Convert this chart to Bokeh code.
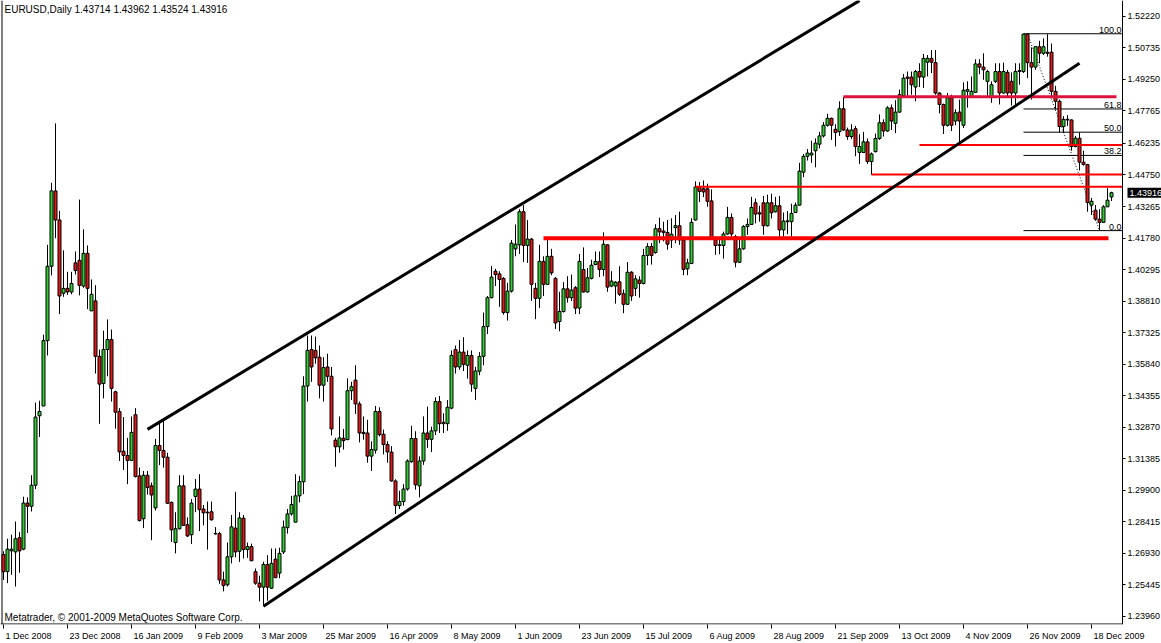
import numpy as np
from bokeh.plotting import figure
from bokeh.models import Range1d, FixedTicker, NumeralTickFormatter, LinearAxis, Label
from bokeh.embed import file_html
from bokeh.resources import INLINE
from bokeh.core.properties import value

# ---------------- data ----------------
symbol = "EURUSD"
timeframe = "Daily"
last_ohlc = ["1.43714", "1.43962", "1.43524", "1.43916"]

bar_open = [
    1.2688, 1.2607, 1.2705, 1.2700, 1.2767, 1.2713, 1.2930, 1.2915, 1.3014, 1.3341,
    1.3387, 1.3695, 1.4045, 1.4400, 1.4263, 1.3918, 1.3941, 1.3924, 1.4061, 1.4073,
    1.3952, 1.4106, 1.3835, 1.3882, 1.3621, 1.3493, 1.3653, 1.3700, 1.3454, 1.3361,
    1.3174, 1.3154, 1.3131, 1.3346, 1.3058, 1.2856, 1.3061, 1.3011, 1.2907, 1.3201,
    1.3178, 1.3146, 1.2933, 1.2744, 1.2809, 1.3011, 1.2828, 1.2781, 1.2961, 1.2996,
    1.2902, 1.2887, 1.2889, 1.2787, 1.2786, 1.2568, 1.2545, 1.2677, 1.2812, 1.2703,
    1.2859, 1.2711, 1.2725, 1.2607, 1.2553, 1.2534, 1.2641, 1.2529, 1.2666, 1.2600,
    1.2700, 1.2814, 1.2879, 1.2840, 1.2964, 1.3030, 1.3481, 1.3653, 1.3649, 1.3617,
    1.3485, 1.3571, 1.3527, 1.3226, 1.3195, 1.3235, 1.3229, 1.3459, 1.3509, 1.3397,
    1.3263, 1.3260, 1.3151, 1.3179, 1.3361, 1.3254, 1.3206, 1.3170, 1.3034, 1.2918,
    1.2937, 1.2996, 1.3125, 1.3234, 1.3011, 1.3128, 1.3260, 1.3230, 1.3270, 1.3408,
    1.3310, 1.3304, 1.3377, 1.3653, 1.3571, 1.3641, 1.3579, 1.3625, 1.3470, 1.3551,
    1.3621, 1.3761, 1.3897, 1.4022, 1.4009, 1.3988, 1.3827, 1.3928, 1.4127, 1.4146,
    1.4302, 1.4143, 1.4173, 1.3941, 1.3894, 1.4068, 1.3960, 1.4092, 1.3988, 1.3785,
    1.3832, 1.3939, 1.3897, 1.3944, 1.3848, 1.4030, 1.3924, 1.3988, 1.4053, 1.4068,
    1.4030, 1.4146, 1.3952, 1.3952, 1.3972, 1.3916, 1.3866, 1.4017, 1.3941, 1.3980,
    1.3964, 1.4096, 1.4138, 1.4110, 1.4222, 1.4211, 1.4204, 1.4169, 1.4227, 1.4236,
    1.4169, 1.4033, 1.4058, 1.4263, 1.4418, 1.4410, 1.4410, 1.4353, 1.4169, 1.4143,
    1.4143, 1.4197, 1.4275, 1.4185, 1.4064, 1.4127, 1.4232, 1.4242, 1.4344, 1.4297,
    1.4344, 1.4236, 1.4344, 1.4302, 1.4330, 1.4216, 1.4255, 1.4255, 1.4298, 1.4333,
    1.4488, 1.4563, 1.4569, 1.4589, 1.4620, 1.4659, 1.4709, 1.4742, 1.4690, 1.4679,
    1.4787, 1.4687, 1.4656, 1.4693, 1.4581, 1.4581, 1.4631, 1.4538, 1.4585, 1.4647,
    1.4721, 1.4682, 1.4791, 1.4718, 1.4771, 1.4849, 1.4936, 1.4936, 1.4889, 1.4962,
    1.4936, 1.5006, 1.5024, 1.5004, 1.4861, 1.4807, 1.4709, 1.4838, 1.4729, 1.4771,
    1.4709, 1.4869, 1.4843, 1.4864, 1.4998, 1.4983, 1.4916, 1.4843, 1.4916, 1.4962,
    1.4861, 1.4958, 1.4916, 1.4861, 1.4962, 1.4962, 1.5138, 1.5004, 1.4983, 1.5079,
    1.5048, 1.5053, 1.5053, 1.4869, 1.4822, 1.4703, 1.4737, 1.4734, 1.4609, 1.4648,
    1.4535, 1.4524, 1.4333, 1.4309, 1.4267, 1.4252, 1.4325, 1.43714,
]
bar_high = [
    1.2703, 1.2762, 1.2781, 1.2843, 1.2793, 1.2960, 1.2957, 1.3061, 1.3403, 1.3412,
    1.3723, 1.4146, 1.4438, 1.4718, 1.4306, 1.4120, 1.4019, 1.4019, 1.4115, 1.4359,
    1.4219, 1.4143, 1.3983, 1.3956, 1.3653, 1.3742, 1.3795, 1.3747, 1.3459, 1.3377,
    1.3335, 1.3237, 1.3338, 1.3377, 1.3097, 1.3081, 1.3081, 1.3027, 1.3232, 1.3310,
    1.3322, 1.3167, 1.2937, 1.2887, 1.3061, 1.3061, 1.2863, 1.2949, 1.3043, 1.3066,
    1.2921, 1.2937, 1.2937, 1.2817, 1.2794, 1.2607, 1.2744, 1.2874, 1.2983, 1.2887,
    1.2874, 1.2744, 1.2739, 1.2622, 1.2588, 1.2654, 1.2685, 1.2716, 1.2716, 1.2720,
    1.2848, 1.2902, 1.2964, 1.3066, 1.3058, 1.3527, 1.3719, 1.3719, 1.3714, 1.3672,
    1.3617, 1.3633, 1.3571, 1.3237, 1.3338, 1.3279, 1.3517, 1.3501, 1.3579, 1.3408,
    1.3338, 1.3322, 1.3221, 1.3387, 1.3381, 1.3276, 1.3221, 1.3198, 1.3042, 1.2988,
    1.3019, 1.3136, 1.3294, 1.3268, 1.3150, 1.3338, 1.3384, 1.3290, 1.3428, 1.3434,
    1.3353, 1.3415, 1.3649, 1.3672, 1.3698, 1.3711, 1.3649, 1.3649, 1.3571, 1.3641,
    1.3827, 1.3905, 1.4046, 1.4033, 1.4022, 1.3994, 1.3967, 1.4169, 1.4242, 1.4314,
    1.4333, 1.4263, 1.4178, 1.3967, 1.4146, 1.4092, 1.4174, 1.4127, 1.3994, 1.3925,
    1.3970, 1.3998, 1.4006, 1.3952, 1.4103, 1.4134, 1.4037, 1.4076, 1.4115, 1.4115,
    1.4205, 1.4149, 1.4022, 1.3975, 1.4045, 1.3936, 1.4065, 1.4022, 1.4003, 1.3998,
    1.4127, 1.4154, 1.4154, 1.4243, 1.4274, 1.4255, 1.4263, 1.4271, 1.4286, 1.4302,
    1.4185, 1.4081, 1.4271, 1.4445, 1.4442, 1.4449, 1.4434, 1.4407, 1.4185, 1.4180,
    1.4208, 1.4325, 1.4294, 1.4193, 1.4169, 1.4239, 1.4270, 1.4372, 1.4364, 1.4330,
    1.4376, 1.4382, 1.4387, 1.4372, 1.4376, 1.4298, 1.4305, 1.4340, 1.4345, 1.4532,
    1.4574, 1.4597, 1.4636, 1.4647, 1.4678, 1.4724, 1.4763, 1.4745, 1.4714, 1.4822,
    1.4843, 1.4698, 1.4714, 1.4706, 1.4667, 1.4678, 1.4647, 1.4581, 1.4670, 1.4760,
    1.4737, 1.4799, 1.4807, 1.4827, 1.4877, 1.4951, 1.4962, 1.4962, 1.4970, 1.5001,
    1.5045, 1.5040, 1.5063, 1.5063, 1.4864, 1.4811, 1.4861, 1.4853, 1.4784, 1.4830,
    1.4911, 1.4916, 1.4939, 1.5020, 1.5020, 1.5048, 1.4970, 1.4916, 1.5001, 1.5001,
    1.5004, 1.4970, 1.4958, 1.5001, 1.5001, 1.5140, 1.5140, 1.5076, 1.5082, 1.5107,
    1.5118, 1.5138, 1.5094, 1.4895, 1.4830, 1.4752, 1.4757, 1.4737, 1.4659, 1.4675,
    1.4589, 1.4527, 1.4367, 1.4333, 1.4314, 1.4333, 1.4413, 1.43962,
]
bar_low = [
    1.2568, 1.2553, 1.2592, 1.2537, 1.2602, 1.2708, 1.2789, 1.2890, 1.2996, 1.3241,
    1.3387, 1.3625, 1.4002, 1.4177, 1.3820, 1.3901, 1.3910, 1.3913, 1.4006, 1.3908,
    1.3944, 1.3843, 1.3835, 1.3540, 1.3303, 1.3423, 1.3527, 1.3408, 1.3280, 1.3128,
    1.3086, 1.3019, 1.3131, 1.3050, 1.2843, 1.2812, 1.2970, 1.2755, 1.2895, 1.3109,
    1.3097, 1.2926, 1.2747, 1.2693, 1.2806, 1.2822, 1.2770, 1.2737, 1.2887, 1.2798,
    1.2825, 1.2711, 1.2848, 1.2781, 1.2550, 1.2514, 1.2537, 1.2646, 1.2675, 1.2653,
    1.2669, 1.2672, 1.2658, 1.2545, 1.2467, 1.2444, 1.2470, 1.2526, 1.2576, 1.2576,
    1.2690, 1.2786, 1.2871, 1.2840, 1.2933, 1.2972, 1.3408, 1.3501, 1.3586, 1.3423,
    1.3408, 1.3501, 1.3248, 1.3101, 1.3167, 1.3182, 1.3226, 1.3415, 1.3350, 1.3216,
    1.3229, 1.3120, 1.3081, 1.3163, 1.3244, 1.3159, 1.3120, 1.3031, 1.2879, 1.2902,
    1.2918, 1.2988, 1.3120, 1.2993, 1.2957, 1.3110, 1.3190, 1.3170, 1.3250, 1.3260,
    1.3260, 1.3270, 1.3372, 1.3540, 1.3558, 1.3552, 1.3516, 1.3454, 1.3415, 1.3532,
    1.3579, 1.3726, 1.3894, 1.3952, 1.3854, 1.3817, 1.3789, 1.3921, 1.4092, 1.4103,
    1.4065, 1.4061, 1.3882, 1.3796, 1.3848, 1.3905, 1.3960, 1.4003, 1.3750, 1.3739,
    1.3827, 1.3874, 1.3882, 1.3820, 1.3820, 1.3921, 1.3921, 1.3983, 1.4050, 1.3994,
    1.3998, 1.3925, 1.3947, 1.3869, 1.3905, 1.3824, 1.3863, 1.3882, 1.3905, 1.3897,
    1.3960, 1.4050, 1.4053, 1.4104, 1.4154, 1.4162, 1.4123, 1.4131, 1.4154, 1.4146,
    1.4003, 1.4003, 1.4056, 1.4260, 1.4348, 1.4371, 1.4325, 1.4174, 1.4099, 1.4102,
    1.4081, 1.4193, 1.4185, 1.4040, 1.4061, 1.4123, 1.4193, 1.4239, 1.4247, 1.4255,
    1.4193, 1.4232, 1.4270, 1.4298, 1.4169, 1.4185, 1.4196, 1.4185, 1.4298, 1.4330,
    1.4465, 1.4543, 1.4532, 1.4511, 1.4600, 1.4651, 1.4703, 1.4640, 1.4609, 1.4659,
    1.4682, 1.4640, 1.4644, 1.4563, 1.4527, 1.4578, 1.4527, 1.4476, 1.4581, 1.4640,
    1.4656, 1.4678, 1.4687, 1.4672, 1.4768, 1.4846, 1.4846, 1.4853, 1.4822, 1.4889,
    1.4885, 1.4939, 1.4955, 1.4853, 1.4765, 1.4668, 1.4703, 1.4682, 1.4709, 1.4628,
    1.4696, 1.4792, 1.4838, 1.4861, 1.4950, 1.4923, 1.4846, 1.4815, 1.4908, 1.4807,
    1.4858, 1.4846, 1.4802, 1.4807, 1.4900, 1.4955, 1.4931, 1.4830, 1.4970, 1.5001,
    1.5040, 1.5032, 1.4846, 1.4784, 1.4675, 1.4675, 1.4706, 1.4589, 1.4605, 1.4496,
    1.4519, 1.4302, 1.4286, 1.4260, 1.4216, 1.4252, 1.4325, 1.43524,
]
bar_close = [
    1.2607, 1.2713, 1.2713, 1.2762, 1.2705, 1.2930, 1.2915, 1.3014, 1.3335, 1.3361,
    1.3695, 1.4045, 1.4400, 1.4263, 1.3905, 1.3941, 1.3924, 1.3964, 1.4025, 1.3955,
    1.4106, 1.3941, 1.3913, 1.3621, 1.3490, 1.3653, 1.3700, 1.3470, 1.3358, 1.3171,
    1.3154, 1.3131, 1.3263, 1.3055, 1.2848, 1.3061, 1.3003, 1.2968, 1.3201, 1.3178,
    1.3146, 1.2929, 1.2804, 1.2809, 1.3011, 1.2825, 1.2775, 1.2930, 1.2996, 1.2899,
    1.2884, 1.2884, 1.2851, 1.2785, 1.2568, 1.2542, 1.2677, 1.2818, 1.2700, 1.2860,
    1.2711, 1.2725, 1.2658, 1.2553, 1.2534, 1.2641, 1.2534, 1.2646, 1.2579, 1.2693,
    1.2817, 1.2879, 1.2923, 1.2964, 1.3031, 1.3481, 1.3649, 1.3571, 1.3614, 1.3485,
    1.3568, 1.3527, 1.3279, 1.3195, 1.3237, 1.3224, 1.3459, 1.3478, 1.3397, 1.3260,
    1.3257, 1.3151, 1.3182, 1.3361, 1.3252, 1.3206, 1.3171, 1.3034, 1.2918, 1.2937,
    1.2996, 1.3128, 1.3234, 1.3016, 1.3128, 1.3260, 1.3230, 1.3270, 1.3408, 1.3304,
    1.3304, 1.3381, 1.3625, 1.3571, 1.3641, 1.3583, 1.3625, 1.3490, 1.3552, 1.3621,
    1.3761, 1.3897, 1.3994, 1.4006, 1.3983, 1.3827, 1.3928, 1.4154, 1.4149, 1.4302,
    1.4143, 1.4173, 1.3960, 1.3894, 1.4068, 1.3960, 1.4092, 1.4014, 1.3778, 1.3832,
    1.3939, 1.3897, 1.3933, 1.3848, 1.4068, 1.3924, 1.3991, 1.4050, 1.4068, 1.4030,
    1.4149, 1.3947, 1.3975, 1.3970, 1.3913, 1.3866, 1.4017, 1.3905, 1.3986, 1.3964,
    1.4096, 1.4138, 1.4096, 1.4222, 1.4207, 1.4204, 1.4149, 1.4196, 1.4236, 1.4169,
    1.4030, 1.4061, 1.4252, 1.4418, 1.4398, 1.4395, 1.4351, 1.4177, 1.4143, 1.4146,
    1.4197, 1.4275, 1.4197, 1.4064, 1.4127, 1.4232, 1.4242, 1.4322, 1.4291, 1.4291,
    1.4236, 1.4344, 1.4297, 1.4330, 1.4216, 1.4258, 1.4259, 1.4294, 1.4333, 1.4493,
    1.4563, 1.4578, 1.4578, 1.4625, 1.4659, 1.4709, 1.4742, 1.4709, 1.4675, 1.4787,
    1.4687, 1.4656, 1.4687, 1.4609, 1.4609, 1.4631, 1.4538, 1.4574, 1.4647, 1.4721,
    1.4682, 1.4791, 1.4729, 1.4771, 1.4853, 1.4931, 1.4930, 1.4900, 1.4962, 1.4936,
    1.5024, 1.5024, 1.5006, 1.4861, 1.4807, 1.4709, 1.4838, 1.4709, 1.4768, 1.4729,
    1.4874, 1.4877, 1.4869, 1.4998, 1.4983, 1.4970, 1.4962, 1.4900, 1.4962, 1.4861,
    1.4962, 1.4861, 1.4861, 1.4962, 1.4967, 1.5138, 1.5004, 1.4983, 1.5079, 1.5048,
    1.5079, 1.5048, 1.4869, 1.4822, 1.4703, 1.4737, 1.4734, 1.4609, 1.4648, 1.4535,
    1.4524, 1.4345, 1.4351, 1.4267, 1.4252, 1.4325, 1.4356, 1.43916,
]

date_labels = ["1 Dec 2008", "23 Dec 2008", "16 Jan 2009", "9 Feb 2009", "3 Mar 2009",
               "25 Mar 2009", "16 Apr 2009", "8 May 2009", "1 Jun 2009", "23 Jun 2009",
               "15 Jul 2009", "6 Aug 2009", "28 Aug 2009", "21 Sep 2009", "13 Oct 2009",
               "4 Nov 2009", "26 Nov 2009", "18 Dec 2009"]
date_label_bars = [0, 16, 32, 48, 64, 80, 96, 112, 128, 144, 160, 176, 192, 208, 224, 240, 256, 272]

price_ticks = [1.52220, 1.50735, 1.49250, 1.47765, 1.46235, 1.44750, 1.43265, 1.41780,
               1.40295, 1.38810, 1.37325, 1.35840, 1.34355, 1.32870, 1.31385, 1.29900,
               1.28415, 1.26930, 1.25445, 1.23960]
current_price = 1.43916

# trend channel anchors (bar index, price)
upper_channel_bars = [36, 214]
upper_channel_prices = [1.3277, 1.5296]
lower_channel_bars = [65, 269]
lower_channel_prices = [1.2444, 1.5001]

# horizontal support / resistance levels
level_prices = [1.4177, 1.4420, 1.4477, 1.4616, 1.4843]
level_start_bars = [135, 173, 217, 229, 210]
level_end_bars = [276.25, 279.75, 279.75, 279.75, 278.25]

# Fibonacci retracement
fib_ratios = [0.0, 38.2, 50.0, 61.8, 100.0]
fib_high = 1.5140
fib_low = 1.4213
fib_high_bar = 256
fib_low_bar = 274
fib_start_bar = 255

# ---------------- styles / layout ----------------
FONT = "Liberation Sans"
FS_PX = 9
FS = f"{FS_PX}px"
FS_BIG = "10px"
UP_COLOR = "#32cd32"
DOWN_COLOR = "#e01818"
level_colors = ["#ff0000", "#ff0000", "#ff0000", "#ff0000", "#dc143c"]
level_widths = [4, 2, 2, 2, 3]

W, H = 1161, 643
CHART_W, CHART_H = 1122, 630          # area left of the price scale / above the date scale
PX_PER_BAR = 4.0
X0 = -0.75
XR = X0 + CHART_W / PX_PER_BAR         # position of the price scale
X1 = X0 + W / PX_PER_BAR               # frame spans the full width
PX_PER_UNIT = 2144.0
Y1 = 1.52966
Y0 = Y1 - CHART_H / PX_PER_UNIT

_ARIAL = {" ": 278, "D": 722, "e": 556, "c": 500, "J": 500, "a": 556, "n": 556, "F": 611,
          "b": 556, "M": 833, "r": 333, "A": 667, "p": 556, "y": 500, "u": 556, "l": 222,
          "g": 556, "S": 667, "O": 778, "t": 278, "N": 722, "o": 556, "v": 500}


def text_px(s):
    return sum(_ARIAL.get(ch, 556) for ch in s) * FS_PX / 1000.0


p = figure(width=W, height=H, output_backend="svg", toolbar_location=None,
           x_range=Range1d(X0, X1), y_range=Range1d(Y0, Y1),
           x_axis_location=None, y_axis_location=None,
           min_border_left=0, min_border_right=0, min_border_top=0,
           min_border_bottom=H - CHART_H,
           background_fill_color="white", border_fill_color="white")
p.outline_line_color = None
for g in p.grid:
    g.visible = False

yaxis = LinearAxis(ticker=FixedTicker(ticks=price_ticks),
                   formatter=NumeralTickFormatter(format="0.00000"),
                   fixed_location=XR,
                   major_tick_in=0, major_tick_out=3, minor_tick_in=0, minor_tick_out=0,
                   major_label_standoff=2, major_label_text_font=FONT,
                   major_label_text_font_size=FS, major_label_text_color="black",
                   axis_line_color="black", major_tick_line_color="black")
p.add_layout(yaxis, "right")

label_centres = [b + (2.0 + text_px(t) / 2.0) / PX_PER_BAR for b, t in zip(date_label_bars, date_labels)]
xaxis = LinearAxis(ticker=FixedTicker(ticks=label_centres, minor_ticks=date_label_bars),
                   major_tick_in=0, major_tick_out=0, minor_tick_in=0, minor_tick_out=4,
                   major_label_standoff=2, major_label_text_font=FONT,
                   major_label_text_font_size=FS, major_label_text_color="black",
                   major_label_overrides={c: t for c, t in zip(label_centres, date_labels)},
                   axis_line_color=None, minor_tick_line_color="black")
p.add_layout(xaxis, "below")

# chart border (bottom and left) up to the price scale
p.line([X0, XR], [Y0 + 0.5 / PX_PER_UNIT] * 2, line_color="black", line_width=1)
p.line([X0 + 1.5 / PX_PER_BAR] * 2, [Y0, Y1], line_color="black", line_width=1)

o = np.array(bar_open); h = np.array(bar_high); l = np.array(bar_low); c = np.array(bar_close)
x = np.arange(len(o))
up = c >= o

# fibonacci (behind candles)
fib_prices = [fib_low + r / 100.0 * (fib_high - fib_low) for r in fib_ratios]
p.segment(x0=[fib_start_bar] * len(fib_prices), x1=[XR] * len(fib_prices),
          y0=fib_prices, y1=fib_prices, line_color="black", line_width=1)
p.line([fib_high_bar, fib_low_bar], [fib_high, fib_low], line_color="black",
       line_width=1, line_dash="1 2")
p.text(x=[XR] * len(fib_prices), y=fib_prices, text=[f"{r:.1f}" for r in fib_ratios],
       text_align="right", text_baseline="bottom", x_offset=-1, y_offset=-1,
       text_font=value(FONT), text_font_size=FS, text_color="black")

# candles
p.segment(x0=x, y0=np.minimum(l, np.minimum(o, c)), x1=x, y1=np.maximum(h, np.maximum(o, c)),
          line_color="black", line_width=1)
p.vbar(x=x[up], width=0.75, top=c[up], bottom=o[up], fill_color=UP_COLOR,
       line_color="black", line_width=1)
p.vbar(x=x[~up], width=0.75, top=o[~up], bottom=c[~up], fill_color=DOWN_COLOR,
       line_color="black", line_width=1)

# horizontal levels
for y, xs, xe, col, w in zip(level_prices, level_start_bars, level_end_bars, level_colors, level_widths):
    p.line([xs, min(xe, XR)], [y, y], line_color=col, line_width=w)

# channel
p.line(upper_channel_bars, upper_channel_prices, line_color="black", line_width=3)
p.line(lower_channel_bars, lower_channel_prices, line_color="black", line_width=3)

# texts inside the chart
p.add_layout(Label(x=X0, y=Y1, x_offset=4, y_offset=-3, text_baseline="top",
                   text=f"{symbol},{timeframe}  " + " ".join(last_ohlc),
                   text_font=FONT, text_font_size=FS_BIG, text_color="black"))
p.add_layout(Label(x=X0, y=Y0, x_offset=4, y_offset=2, text_baseline="bottom",
                   text="Metatrader, \u00a9 2001-2009 MetaQuotes Software Corp.",
                   text_font=FONT, text_font_size=FS_BIG, text_color="black"))

# current price marker on the price scale
p.add_layout(Label(x=XR, y=current_price, x_offset=5, text_baseline="middle",
                   text_align="left", text=f"{current_price:.5f}", text_font=FONT,
                   text_font_size=FS, text_color="white",
                   background_fill_color="black", padding=2))

open("out.html", "w").write(file_html(p, INLINE))
